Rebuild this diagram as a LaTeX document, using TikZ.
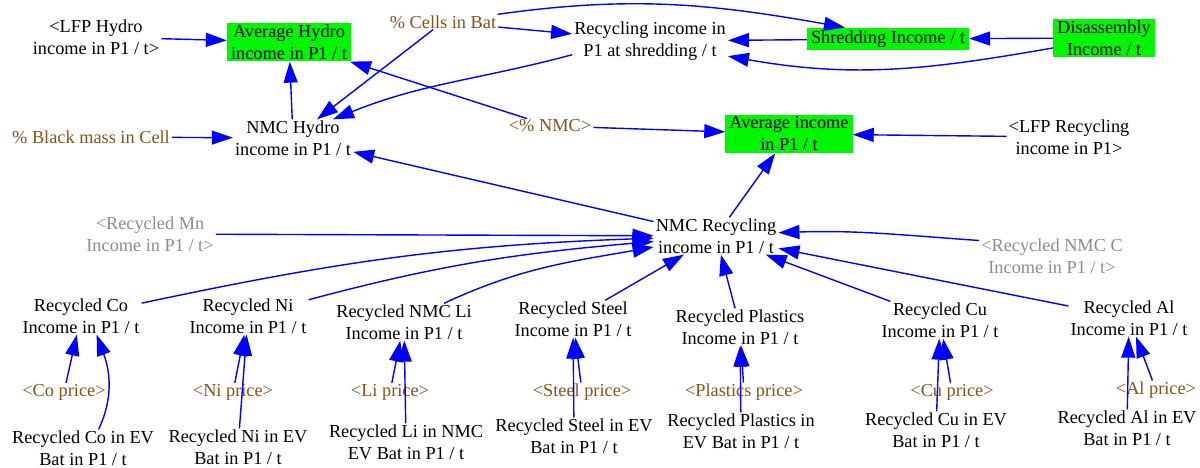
\documentclass[tikz,border=0pt]{standalone}
\usepackage{fontspec}
\setmainfont{Liberation Serif}
\usetikzlibrary{arrows.meta}
\definecolor{vgreen}{RGB}{0,245,0}
\definecolor{vbrown}{RGB}{135,82,25}
\definecolor{vgray}{RGB}{140,140,140}
\definecolor{vblue}{RGB}{0,0,255}
\tikzset{
  lbl/.style={align=center, inner xsep=2pt, inner ysep=1pt, text=black, font=\fontsize{18.3}{22}\selectfont},
  varbox/.style={lbl, fill=vgreen, inner xsep=4pt, inner ysep=2pt},
  brownlbl/.style={lbl, text=vbrown},
  ghost/.style={lbl, text=vgray},
  link/.style={draw=vblue, line width=1.4pt, -{Triangle[length=21pt,width=14pt]}},
}
\begin{document}
\begin{tikzpicture}[x=1pt,y=1pt]
\useasboundingbox (0,0) rectangle (1200,-468);
% top rows
\node[lbl] (lfph) at (96,-37) {<LFP Hydro\\income in P1 / t>};
\node[varbox] (avgh) at (289,-42) {Average Hydro\\income in P1 / t};
\node[brownlbl] (cells) at (443,-22) {\% Cells in Bat};
\node[lbl] (recshred) at (650,-41) {Recycling income in\\P1 at shredding / t};
\node[varbox, inner ysep=3pt] (shred) at (888,-39) {Shredding Income / t};
\node[varbox] (disas) at (1104,-38) {Disassembly\\Income / t};
\node[brownlbl] (black) at (91,-137) {\% Black mass in Cell};
\node[lbl] (nmch) at (293,-138) {NMC Hydro\\income in P1 / t};
\node[brownlbl] (nmc) at (550,-126) {<\% NMC>};
\node[varbox] (avginc) at (789,-134) {Average income\\in P1 / t};
\node[lbl] (lfpr) at (1069,-137) {<LFP Recycling\\income in P1>};
\node[lbl] (nmcr) at (716,-236) {NMC Recycling\\income in P1 / t};
\node[ghost] (mn) at (150,-234) {<Recycled Mn\\Income in P1 / t>};
\node[ghost] (nmcc) at (1052,-256) {<Recycled NMC C\\Income in P1 / t>};
% income row
\node[lbl] (coinc) at (81,-316) {Recycled Co\\Income in P1 / t};
\node[lbl] (niinc) at (248,-316) {Recycled Ni\\Income in P1 / t};
\node[lbl] (liinc) at (404,-322) {Recycled NMC Li\\Income in P1 / t};
\node[lbl] (stinc) at (573,-319) {Recycled Steel\\Income in P1 / t};
\node[lbl] (plinc) at (740,-327) {Recycled Plastics\\Income in P1 / t};
\node[lbl] (cuinc) at (940,-320) {Recycled Cu\\Income in P1 / t};
\node[lbl] (alinc) at (1129,-318) {Recycled Al\\Income in P1 / t};
% price row
\node[brownlbl] (copr) at (64,-392) {<Co price>};
\node[brownlbl] (nipr) at (233,-392) {<Ni price>};
\node[brownlbl] (lipr) at (390,-392) {<Li price>};
\node[brownlbl] (stpr) at (582,-392) {<Steel price>};
\node[brownlbl] (plpr) at (744,-392) {<Plastics price>};
\node[brownlbl] (cupr) at (952,-392) {<Cu price>};
\node[brownlbl] (alpr) at (1156,-390) {<Al price>};
% EV row
\node[lbl] (coev) at (83,-448) {Recycled Co in EV\\Bat in P1 / t};
\node[lbl] (niev) at (238,-447) {Recycled Ni in EV\\Bat in P1 / t};
\node[lbl] (liev) at (406,-442) {Recycled Li in NMC\\EV Bat in P1 / t};
\node[lbl] (stev) at (574,-436) {Recycled Steel in EV\\Bat in P1 / t};
\node[lbl] (plev) at (741,-431) {Recycled Plastics in\\EV Bat in P1 / t};
\node[lbl] (cuev) at (936,-430) {Recycled Cu in EV\\Bat in P1 / t};
\node[lbl] (alev) at (1127,-428) {Recycled Al in EV\\Bat in P1 / t};
% top connectors
\draw[link] (lfph) -- (avgh);
\draw[link] (nmch) -- (avgh);
\draw[link] (black) -- (nmch);
\draw[link] (cells) -- (nmch);
\draw[link] (cells) -- (recshred);
\draw[link] (cells.8) to[out=8,in=170] (shred.165);
\draw[link] (recshred.190) to[out=195,in=22] (nmch.25);
\draw[link] (shred) -- (recshred);
\draw[link] (disas) -- (shred);
\draw[link] (disas.191) to[out=190,in=-10] (recshred.-11);
\draw[link] (nmc) -- (avgh);
\draw[link] (nmc) -- (avginc);
\draw[link] (lfpr) -- (avginc);
\draw[link] (nmcr) -- (avginc);
\draw[link] (nmcr) -- (nmch);
% into NMC recycling
\draw[link] (mn) -- (nmcr);
\draw[link] (coinc) to[out=12,in=182] (nmcr);
\draw[link] (niinc) to[out=15,in=185] (nmcr);
\draw[link] (liinc) to[out=25,in=190] (nmcr);
\draw[link] (stinc) -- (nmcr);
\draw[link] (plinc) -- (nmcr);
\draw[link] (cuinc) -- (nmcr);
\draw[link] (alinc) -- (nmcr);
\draw[link] (nmcc.168) to[out=176,in=2] (nmcr.3);
% prices and amounts
\draw[link] (copr) -- (coinc);
\draw[link] (coev.50) to[out=65,in=-70] (coinc.-50);
\draw[link] (nipr) -- (niinc);
\draw[link] (niev) -- (niinc);
\draw[link] (lipr) -- (liinc);
\draw[link] (liev) -- (liinc);
\draw[link] (stpr) -- (stinc);
\draw[link] (stev) -- (stinc);
\draw[link] (plpr) -- (plinc);
\draw[link] (plev) -- (plinc);
\draw[link] (cupr) -- (cuinc);
\draw[link] (cuev) -- (cuinc);
\draw[link] (alpr) -- (alinc);
\draw[link] (alev) -- (alinc);
\end{tikzpicture}
\end{document}
